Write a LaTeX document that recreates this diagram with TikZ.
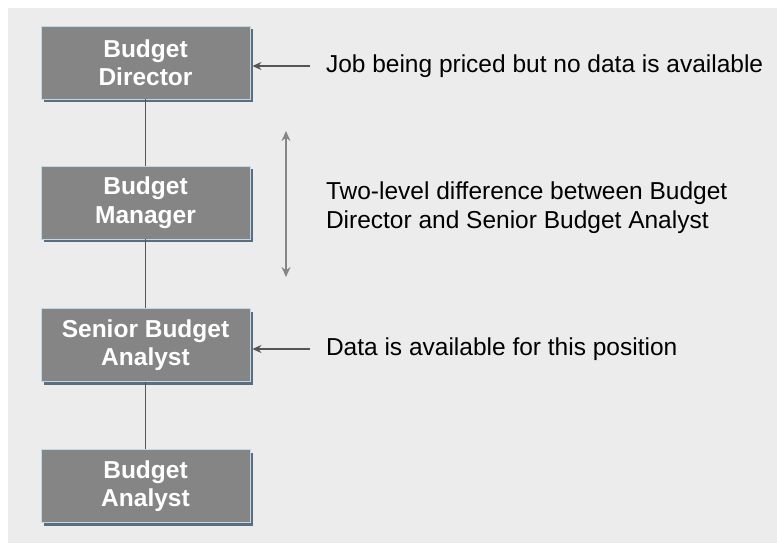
\documentclass[tikz,border=0pt]{standalone}
\usepackage{fontspec}
\setmainfont{Liberation Sans}
\usepackage{xcolor}
\usetikzlibrary{shadows,arrows.meta}
\definecolor{panelgray}{RGB}{236, 236, 236}
\definecolor{boxgray}{RGB}{133, 133, 133}
\definecolor{boxedge}{RGB}{190, 218, 234}
\definecolor{shadowblue}{RGB}{90, 110, 128}
\definecolor{linegray}{RGB}{85, 85, 85}

\tikzset{
    jobbox/.style={rectangle, fill=boxgray, draw=boxedge, line width=0.8pt,
        minimum width=209pt, minimum height=73pt, align=center, inner sep=0pt,
        text=white, font=\fontsize{24.5}{28.5}\selectfont\bfseries,
        drop shadow={shadow xshift=3pt, shadow yshift=-3pt, fill=shadowblue, opacity=1}},
    note/.style={anchor=west, align=left, inner sep=0pt, outer xsep=16pt,
        font=\fontsize{24.5}{29}\selectfont},
    link/.style={draw=linegray, line width=1.3pt},
    pointer/.style={draw=linegray, line width=1.3pt, -{Stealth[length=9pt, width=8pt]}}
}

\begin{document}
\begin{tikzpicture}[x=1pt, y=-1pt]
    % Page and panel
        \useasboundingbox (0,0) rectangle (777,544);
        \fill[panelgray] (8,8) rectangle (777,543);

        % Job ladder
        \foreach \name/\txt/\y in {director/Budget\\Director/62.5,
                                   manager/Budget\\Manager/202.5,
                                   senior/Senior Budget\\Analyst/345,
                                   analyst/Budget\\Analyst/486} {
            \node[jobbox] (\name) at (145.5, \y) {\txt};
        }

        % Vertical links
        \draw[link] (director) -- (manager);
        \draw[link] (manager) -- (senior);
        \draw[link] (senior) -- (analyst);

        % Notes
        \node[note] (priced) at (310, 66) {Job being priced but no data is available};
        \node[note] (gap) at (310, 207.5) {Two-level difference between Budget\\Director and Senior Budget Analyst};
        \node[note] (avail) at (310, 349) {Data is available for this position};

        \draw[pointer] (priced.west) -- ([xshift=2pt]director.east |- priced.west);
        \draw[pointer] (avail.west) -- ([xshift=2pt]senior.east |- avail.west);

        % Level gap
        \coordinate (gaptop) at (286, 131);
        \coordinate (gapbot) at (286, 277);
        \draw[draw=gray!95, line width=1.5pt, {Stealth[length=10pt, width=9pt]}-{Stealth[length=10pt, width=9pt]}] (gaptop) -- (gapbot);
    \end{tikzpicture}
\end{document}
